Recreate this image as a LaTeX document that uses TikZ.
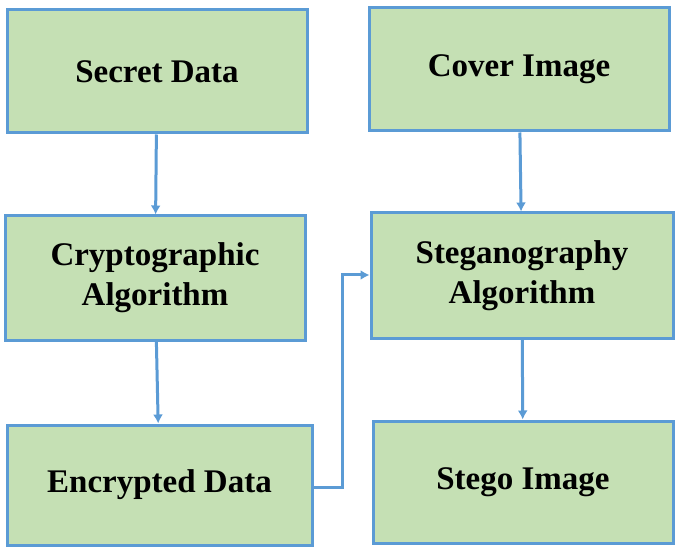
\documentclass[tikz,border=0pt]{standalone}
\usepackage{fontspec}
\setmainfont{Liberation Serif}
\definecolor{boxfill}{HTML}{C5E0B4}
\definecolor{boxline}{HTML}{5B9BD5}
\tikzset{
    blockbox/.style={draw=boxline, fill=boxfill, line width=3pt, align=center,
        font=\fontsize{33}{40}\selectfont\bfseries},
    flow/.style={draw=boxline, line width=3pt, -{Latex[length=9pt,width=10pt]}}
}
\usetikzlibrary{arrows.meta}
\begin{document}
\begin{tikzpicture}[x=1pt,y=-1pt]
    \useasboundingbox (0,0) rectangle (685,553);

    \node[blockbox, minimum width=300pt, minimum height=123pt] (secret) at (157,71.5) {Secret Data};
    \node[blockbox, minimum width=300pt, minimum height=123pt] (cover) at (519,69.5) {Cover Image};
    \node[blockbox, minimum width=300pt, minimum height=124pt] (crypto) at (155,278) {Cryptographic\\Algorithm};
    \node[blockbox, minimum width=302pt, minimum height=125pt] (stegano) at (522,275.5) {Steganography\\Algorithm};
    \node[blockbox, minimum width=305pt, minimum height=120pt] (encrypted) at (159.5,485) {Encrypted Data};
    \node[blockbox, minimum width=300pt, minimum height=122pt] (stego) at (523,482) {Stego Image};

    \coordinate (bend1) at (342,487);
    \coordinate (bend2) at (342,275);

    \draw[flow] (secret) -- (crypto);
    \draw[flow] (crypto) -- (encrypted);
    \draw[flow] (cover) -- (stegano);
    \draw[flow] (stegano) -- (stego);
    \draw[flow] (encrypted.east |- bend1) -- (bend1) -- (bend2) -- (stegano.west |- bend2);

\end{tikzpicture}
\end{document}
